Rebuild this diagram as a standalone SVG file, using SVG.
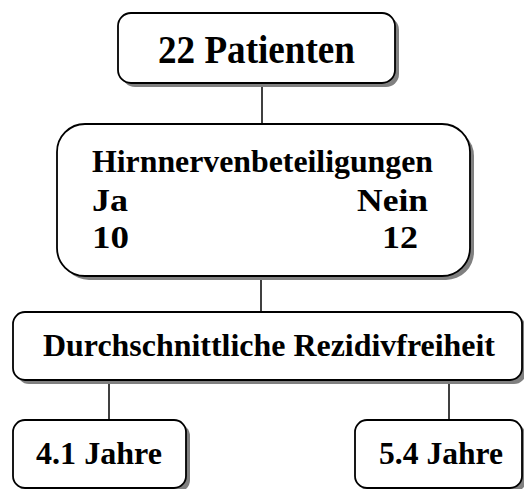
<svg xmlns="http://www.w3.org/2000/svg" width="524" height="489" viewBox="0 0 524 489">
<style>
.sh{fill:#808080;stroke:none}
.bx{fill:#fff;stroke:#000;stroke-width:1.8}
.t{font-family:"Liberation Serif","Times New Roman",serif;font-weight:bold;fill:#000}
.c{stroke:#000;stroke-width:1.5;fill:none}
</style>
<rect width="524" height="489" fill="#fff"/>
<g id="connectors">
<line class="c" x1="262" y1="83" x2="262" y2="124"/>
<line class="c" x1="261" y1="276" x2="261" y2="312"/>
<line class="c" x1="109" y1="380" x2="109" y2="420"/>
<line class="c" x1="449" y1="380" x2="449" y2="420"/>
</g>
<g id="n1">
<rect class="sh" x="122" y="17" width="277" height="70" rx="13"/>
<rect class="bx" x="118" y="13" width="277" height="70" rx="13"/>
<text class="t" x="256.5" y="63" font-size="40" text-anchor="middle" textLength="197" lengthAdjust="spacingAndGlyphs">22 Patienten</text>
</g>
<g id="n2">
<rect class="sh" x="61" y="128" width="413" height="152" rx="28"/>
<rect class="bx" x="57" y="124" width="413" height="152" rx="28"/>
<text class="t" x="92" y="172" font-size="31" textLength="341" lengthAdjust="spacingAndGlyphs">Hirnnervenbeteiligungen</text>
<text class="t" x="92" y="211" font-size="32" textLength="36" lengthAdjust="spacingAndGlyphs">Ja</text>
<text class="t" x="357" y="211" font-size="32" textLength="71" lengthAdjust="spacingAndGlyphs">Nein</text>
<text class="t" x="92" y="248" font-size="32" textLength="37" lengthAdjust="spacingAndGlyphs">10</text>
<text class="t" x="382" y="248" font-size="32" textLength="36" lengthAdjust="spacingAndGlyphs">12</text>
</g>
<g id="n3">
<rect class="sh" x="17" y="316" width="509" height="68" rx="12"/>
<rect class="bx" x="13" y="312" width="509" height="68" rx="12"/>
<text class="t" x="43" y="356" font-size="31" textLength="452" lengthAdjust="spacingAndGlyphs">Durchschnittliche Rezidivfreiheit</text>
</g>
<g id="n4">
<rect class="sh" x="17" y="424" width="173" height="68" rx="12"/>
<rect class="bx" x="13" y="420" width="173" height="68" rx="12"/>
<text class="t" x="36" y="464" font-size="32" textLength="126" lengthAdjust="spacingAndGlyphs">4.1 Jahre</text>
</g>
<g id="n5">
<rect class="sh" x="359" y="424" width="167" height="68" rx="12"/>
<rect class="bx" x="355" y="420" width="167" height="68" rx="12"/>
<text class="t" x="379" y="464" font-size="32" textLength="124" lengthAdjust="spacingAndGlyphs">5.4 Jahre</text>
</g>
</svg>
